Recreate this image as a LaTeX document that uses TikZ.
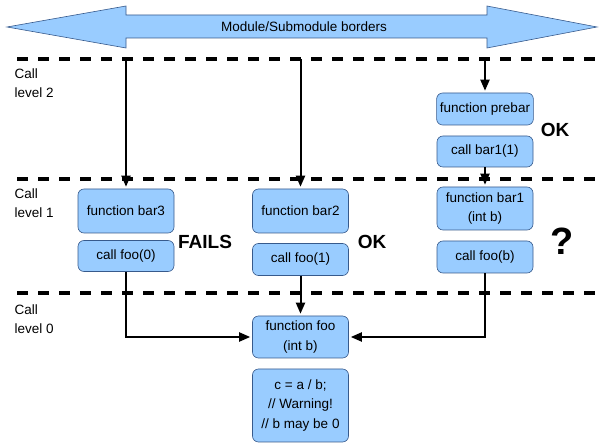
\documentclass[tikz,border=0pt]{standalone}
\usepackage{fontspec}
\setmainfont{Liberation Sans}
\usepackage{xcolor}
\usepackage{tikz}
\usetikzlibrary{arrows.meta,positioning,calc}

\definecolor{boxfill}{RGB}{153,204,255}
\definecolor{boxline}{RGB}{55,90,140}

\begin{document}
\begin{tikzpicture}[x=1pt,y=-1pt,
  fbox/.style={draw=boxline,fill=boxfill,rounded corners=6pt,line width=0.6pt,
    minimum width=96pt,align=center,font=\fontsize{13.5}{19.5}\selectfont},
  calllink/.style={line width=2pt,-{Triangle[length=11pt,width=9pt]},shorten >=2pt},
  levelline/.style={line width=4pt,dash pattern=on 11pt off 10pt},
  lvltext/.style={anchor=west,align=left,font=\fontsize{13.5}{19.5}\selectfont},
  verdict/.style={font=\bfseries\fontsize{19}{22}\selectfont}]
\useasboundingbox (0,0) rectangle (600,443);
\draw[boxline,fill=boxfill,line width=0.6pt] (7,27) -- (126,6) -- (126,15) -- (487,15) -- (487,6) -- (597,27)
  -- (487,48) -- (487,38) -- (126,38) -- (126,48) -- cycle;
\node[font=\fontsize{13.5}{16}\selectfont] (borders) at (304,27) {Module/Submodule borders};
\foreach \y in {59,179,293}{
  \draw[levelline] (17,\y) -- (600,\y);
}
\node[lvltext] (lvl2) at (11,83) {Call\\level 2};
\node[lvltext] (lvl1) at (11,203) {Call\\level 1};
\node[lvltext] (lvl0) at (11,319) {Call\\level 0};
\node[fbox,minimum height=32pt] (prebar) at (485,109) {function prebar};
\node[fbox,minimum height=31pt] (callbar1) at (485,151.5) {call bar1(1)};
\node[fbox,minimum height=44pt] (bar3) at (126,211) {function bar3};
\node[fbox,minimum height=31pt] (foo0) at (126,256) {call foo(0)};
\node[fbox,minimum height=44pt] (bar2) at (300.5,211) {function bar2};
\node[fbox,minimum height=32pt] (foo1) at (300.5,259.5) {call foo(1)};
\node[fbox,minimum height=43pt] (bar1) at (485,208.5) {function bar1\\(int b)};
\node[fbox,minimum height=32pt] (foob) at (485,257) {call foo(b)};
\node[fbox,minimum height=42pt] (foo) at (300.5,337) {function foo\\(int b)};
\node[fbox,minimum height=73pt] (warn) at (300.5,405.5) {c = a / b;\\// Warning!\\// b may be 0};
\node[verdict] (fails) at (205,242) {FAILS};
\node[verdict] (ok2) at (372,242) {OK};
\node[verdict] (ok1) at (555,130) {OK};
\node[font=\bfseries\fontsize{38}{40}\selectfont] (unknown) at (562,241) {?};
\coordinate (s3) at (126,59);
\coordinate (s2) at (300.5,59);
\coordinate (s1) at (485,59);
\draw[calllink] (s3) -- (bar3);
\draw[calllink] (s2) -- (bar2);
\draw[calllink] (s1) -- (prebar);
\draw[calllink] (callbar1) -- (bar1);
\draw[calllink] (foo0) |- (foo);
\draw[calllink] (foo1) -- (foo);
\draw[calllink] (foob) |- (foo);
\end{tikzpicture}
\end{document}
